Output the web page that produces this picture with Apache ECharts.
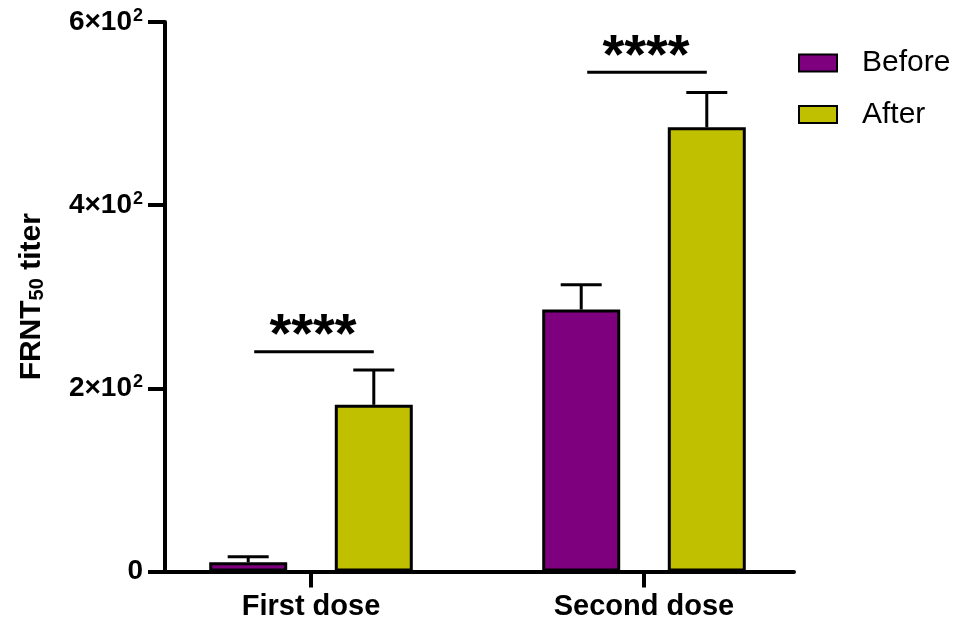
<!DOCTYPE html>
<html>
<head>
<meta charset="utf-8">
<script src="https://cdn.jsdelivr.net/npm/echarts@6/dist/echarts.min.js"></script>
<style>html,body{margin:0;padding:0;background:#fff;}#chart{width:961px;height:624px;}</style>
</head>
<body>
<div id="chart"></div>
<script>
// ---- data ----
const categories = ['First dose', 'Second dose'];
const seriesNames = ['Before', 'After'];
const beforeMean = [10, 286];
const beforeErr = [6, 27];
const afterMean = [182, 485];
const afterErr = [38, 38];
const sigLevel = [240, 545];
const sigLabel = ['****', '****'];
const yTicks = [0, 200, 400, 600];

// ---- style constants ----
const FONT = "'Liberation Sans', Arial, sans-serif";
const PURPLE = '#7f007f';
const OLIVE = '#c0bf00';
const BAR_W = 78;
const BAR_GAP = 0.61;
const BAR_OFFSET = BAR_W * (1 + BAR_GAP) / 2;
const CAP = 41;

const chart = echarts.init(document.getElementById('chart'), null, {renderer: 'canvas'});

function errRender(sign) {
  return function (params, api) {
    const cat = api.value(0), mean = api.value(1), err = api.value(2);
    const b = api.coord([cat, mean]);
    const t = api.coord([cat, mean + err]);
    const x = b[0] + sign * BAR_OFFSET;
    return {
      type: 'group',
      children: [
        {type: 'line', shape: {x1: x, y1: b[1], x2: x, y2: t[1]}, style: {stroke: '#000', lineWidth: 3}},
        {type: 'line', shape: {x1: x - CAP / 2, y1: t[1], x2: x + CAP / 2, y2: t[1]}, style: {stroke: '#000', lineWidth: 3}}
      ]
    };
  };
}

function sigRender(params, api) {
  const cat = api.value(0), lvl = api.value(1);
  const c = api.coord([cat, lvl]);
  const x1 = c[0] - BAR_OFFSET + 6;
  const x2 = c[0] + BAR_OFFSET;
  return {
    type: 'group',
    children: [
      {type: 'line', shape: {x1: x1, y1: c[1], x2: x2, y2: c[1]}, style: {stroke: '#000', lineWidth: 3}},
      {type: 'text', style: {
        x: (x1 + x2) / 2 - 1, y: c[1] - 15, text: sigLabel[params.dataIndex],
        font: 'bold 56px ' + FONT, fill: '#000', align: 'center', verticalAlign: 'middle'
      }}
    ]
  };
}

const option = {
  animation: false,
  backgroundColor: '#fff',
  textStyle: {fontFamily: FONT},
  legend: {
    data: seriesNames,
    orient: 'vertical',
    left: 798,
    top: 48,
    padding: 0,
    itemWidth: 38,
    itemHeight: 17,
    itemGap: 21.5,
    icon: 'rect',
    textStyle: {fontSize: 30, color: '#000', fontFamily: FONT, lineHeight: 29, padding: [0, 0, 0, 20]}
  },
  grid: [
    {left: 144.5, right: 150.5, top: 22, bottom: 52.5},
    {left: 165, right: 167, top: 22, bottom: 52.5}
  ],
  xAxis: [
    {
      type: 'category', gridIndex: 0, data: categories,
      axisLine: {show: false},
      axisTick: {show: true, alignWithLabel: true, length: 16, lineStyle: {color: '#000', width: 4}},
      axisLabel: {fontSize: 29, fontWeight: 'bold', color: '#000', fontFamily: FONT, margin: 21},
      splitLine: {show: false}
    },
    {
      type: 'value', gridIndex: 1, min: 0, max: 1,
      axisLine: {show: true, lineStyle: {color: '#000', width: 4}},
      axisTick: {show: false}, axisLabel: {show: false}, splitLine: {show: false}
    }
  ],
  yAxis: [
    {type: 'value', gridIndex: 0, min: 0, max: 600, show: false, splitLine: {show: false}},
    {
      type: 'value', gridIndex: 1, min: yTicks[0], max: yTicks[yTicks.length - 1], interval: 200,
      axisLine: {show: true, lineStyle: {color: '#000', width: 4}},
      axisTick: {show: true, length: 17, lineStyle: {color: '#000', width: 4}},
      splitLine: {show: false},
      axisLabel: {
        margin: 22, fontSize: 28, fontWeight: 'bold', color: '#000', fontFamily: FONT,
        formatter: v => v === 0 ? '0' : (v / 100) + '×10{sup|2}',
        rich: {sup: {fontSize: 18, fontWeight: 'bold', color: '#000', fontFamily: FONT, verticalAlign: 'top', lineHeight: 30, padding: [0, 0, 12, 1]}}
      },
      name: 'FRNT{sub|50} titer',
      nameLocation: 'middle',
      nameGap: 118,
      nameTextStyle: {
        fontSize: 30, fontWeight: 'bold', color: '#000', fontFamily: FONT,
        rich: {sub: {fontSize: 20, fontWeight: 'bold', color: '#000', fontFamily: FONT, verticalAlign: 'bottom', padding: [10, 0, 0, 0]}}
      }
    }
  ],
  series: [
    {
      name: seriesNames[0], type: 'bar', xAxisIndex: 0, yAxisIndex: 0,
      data: beforeMean, barWidth: BAR_W, barGap: (BAR_GAP * 100) + '%',
      itemStyle: {color: PURPLE, borderColor: '#000', borderWidth: 3}, z: 3
    },
    {
      name: seriesNames[1], type: 'bar', xAxisIndex: 0, yAxisIndex: 0,
      data: afterMean, barWidth: BAR_W, barGap: (BAR_GAP * 100) + '%',
      itemStyle: {color: OLIVE, borderColor: '#000', borderWidth: 3}, z: 3
    },
    {
      type: 'custom', xAxisIndex: 0, yAxisIndex: 0, z: 2,
      renderItem: errRender(-1),
      data: beforeMean.map((m, i) => [i, m, beforeErr[i]])
    },
    {
      type: 'custom', xAxisIndex: 0, yAxisIndex: 0, z: 2,
      renderItem: errRender(1),
      data: afterMean.map((m, i) => [i, m, afterErr[i]])
    },
    {
      type: 'custom', xAxisIndex: 0, yAxisIndex: 0, z: 4,
      renderItem: sigRender,
      data: sigLevel.map((s, i) => [i, s])
    }
  ]
};
chart.setOption(option);
</script>
</body>
</html>
